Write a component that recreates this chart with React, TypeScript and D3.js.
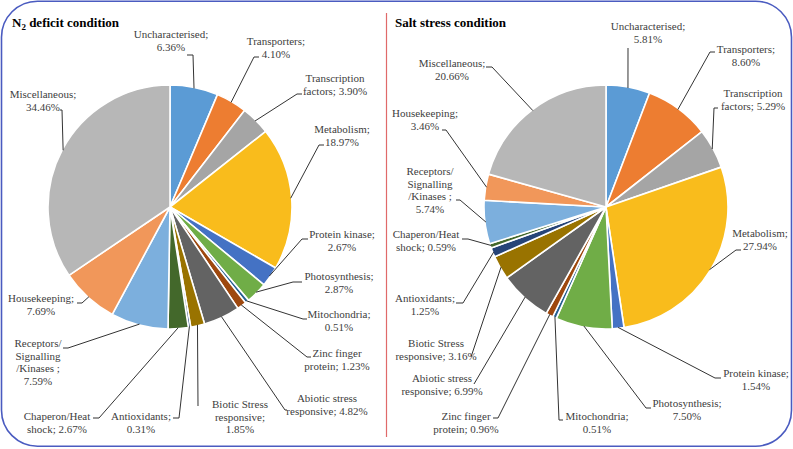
import React from "react";
import * as d3 from "d3";

const categories = [
  "Uncharacterised",
  "Transporters",
  "Transcription factors",
  "Metabolism",
  "Protein kinase",
  "Photosynthesis",
  "Mitochondria",
  "Zinc finger protein",
  "Abiotic stress responsive",
  "Biotic Stress responsive",
  "Antioxidants",
  "Chaperon/Heat shock",
  "Receptors/Signalling/Kinases ",
  "Housekeeping",
  "Miscellaneous",
];

const n2Values = [6.36, 4.1, 3.9, 18.97, 2.67, 2.87, 0.51, 1.23, 4.82, 1.85, 0.31, 2.67, 7.59, 7.69, 34.46];
const saltValues = [5.81, 8.6, 5.29, 27.94, 1.54, 7.5, 0.51, 0.96, 6.99, 3.16, 1.25, 0.59, 5.74, 3.46, 20.66];

const titles = ["deficit condition", "Salt stress condition"];

const colors = [
  "#5B9BD5", "#ED7D31", "#A5A5A5", "#F9BC1C", "#4472C4", "#70AD47", "#255E91", "#9E480E",
  "#636363", "#997300", "#264478", "#43682B", "#7CAFDD", "#F1975A", "#B7B7B7",
];

// label layout relative to pie centre: [textX, firstBaseline, elbowX, elbowY, endX, lineLengths]
type L = [number, number, number, number, number, number[]];
const n2Layout: L[] = [
  [1, -169, 23, -152, 17, [16]],
  [106, -162, 84, -150, 89, [13]],
  [165, -125, 127, -113, 132, [13]],
  [172, -74, 149, -62, 154, [11]],
  [172, 31, 132, 32, 138, [15]],
  [169, 73, 123, 75, 132, [15]],
  [169, 111, 133, 112, 137, [13]],
  [167, 150, 137, 150, 141, [11]],
  [157, 195, 115, 203, 117, [14]],
  [70, 201, 28, 199, 28, [13, 12]],
  [-29, 213, 9, 211, 3, [13]],
  [-113, 213, -71, 211, -77, [13]],
  [-132, 140, -102, 141, -107, [10, 10, 10]],
  [-129, 95, -88, 96, -93, [13]],
  [-127, -109, -108, -97, -110, [14]],
];
const saltLayout: L[] = [
  [42, -177, 22, -159, 22, [16]],
  [140, -154, 104, -155, 109, [13]],
  [147, -110, 108, -99, 112, [13]],
  [154, 30, 130, 43, 135, [11]],
  [150, 170, 109, 171, 115, [15]],
  [81, 200, 40, 201, 45, [15]],
  [-9, 213, -47, 213, -43, [13]],
  [-140, 213, -108, 211, -113, [11]],
  [-164, 175, -132, 177, -132, [14]],
  [-170, 140, -135, 150, -135, [13]],
  [-181, 95, -143, 96, -150, [13]],
  [-180, 31, -138, 32, -144, [13]],
  [-176, -32, -146, -7, -150, [10, 10, 10]],
  [-181, -90, -160, -77, -164, [13]],
  [-154, -140, -114, -140, -120, [14]],
];

const W = 793;
const H = 449;
const R = 122;
const LINE_H = 12.6;
const FONT = "Liberation Serif";

function wrap(text: string, lens: number[]): string[] {
  const out: string[] = [];
  let pos = 0;
  for (const n of lens) {
    out.push(text.slice(pos, pos + n).trim());
    pos += n;
  }
  out.push(text.slice(pos).trim());
  return out.filter((s) => s.length > 0);
}

function Pie({ values, layout, cx, cy }: { values: number[]; layout: L[]; cx: number; cy: number }) {
  const pie = d3.pie<number>().sort(null).value((d) => d);
  const arcs = pie(values);
  const arc = d3.arc<d3.PieArcDatum<number>>().innerRadius(0).outerRadius(R);
  return (
    <g transform={`translate(${cx},${cy})`}>
      {arcs.map((a, i) => (
        <path key={i} d={arc(a) || ""} fill={colors[i]} stroke="#fff" strokeWidth={1.6} strokeLinejoin="round" />
      ))}
      {arcs.map((a, i) => {
        const [tx, ty, ex, ey, ax, lens] = layout[i];
        const mid = (a.startAngle + a.endAngle) / 2;
        const px = (R - 1) * Math.sin(mid);
        const py = -(R - 1) * Math.cos(mid);
        const label = `${categories[i]}; ${values[i].toFixed(2)}%`;
        const lines = wrap(label, lens);
        return (
          <g key={"l" + i}>
            <polyline
              points={`${px},${py} ${ex},${ey} ${ax},${ey}`}
              fill="none"
              stroke="#333"
              strokeWidth={1}
            />
            <text
              x={tx}
              y={ty}
              textAnchor="middle"
              fontFamily={FONT}
              fontSize={11}
              fill="#404040"
            >
              {lines.map((s, k) => (
                <tspan key={k} x={tx} y={ty + k * LINE_H}>
                  {s}
                </tspan>
              ))}
            </text>
          </g>
        );
      })}
    </g>
  );
}

export default function App() {
  return (
    <svg
      width={W}
      height={H}
      viewBox={`0 0 ${W} ${H}`}
      style={{ position: "absolute", left: 0, top: 0, background: "#fff" }}
    >
      <rect x={0} y={0} width={W} height={H} fill="#fff" />
      <rect x={1.5} y={1.2} width={790} height={445} rx={36} ry={36} fill="none" stroke="#4a5bc0" strokeWidth={1.6} />
      <line x1={386.5} x2={386.5} y1={13} y2={437} stroke="#e06a6a" strokeWidth={1.2} />
      <text x={12} y={27} fontFamily={FONT} fontSize={13} fontWeight="bold" fill="#000">
        N
        <tspan fontSize={9} dy={3}>2</tspan>
        <tspan dy={-3}> {titles[0]}</tspan>
      </text>
      <text x={395} y={27} fontFamily={FONT} fontSize={13} fontWeight="bold" fill="#000">
        {titles[1]}
      </text>
      <Pie values={n2Values} layout={n2Layout} cx={170} cy={207} />
      <Pie values={saltValues} layout={saltLayout} cx={606} cy={207} />
    </svg>
  );
}
